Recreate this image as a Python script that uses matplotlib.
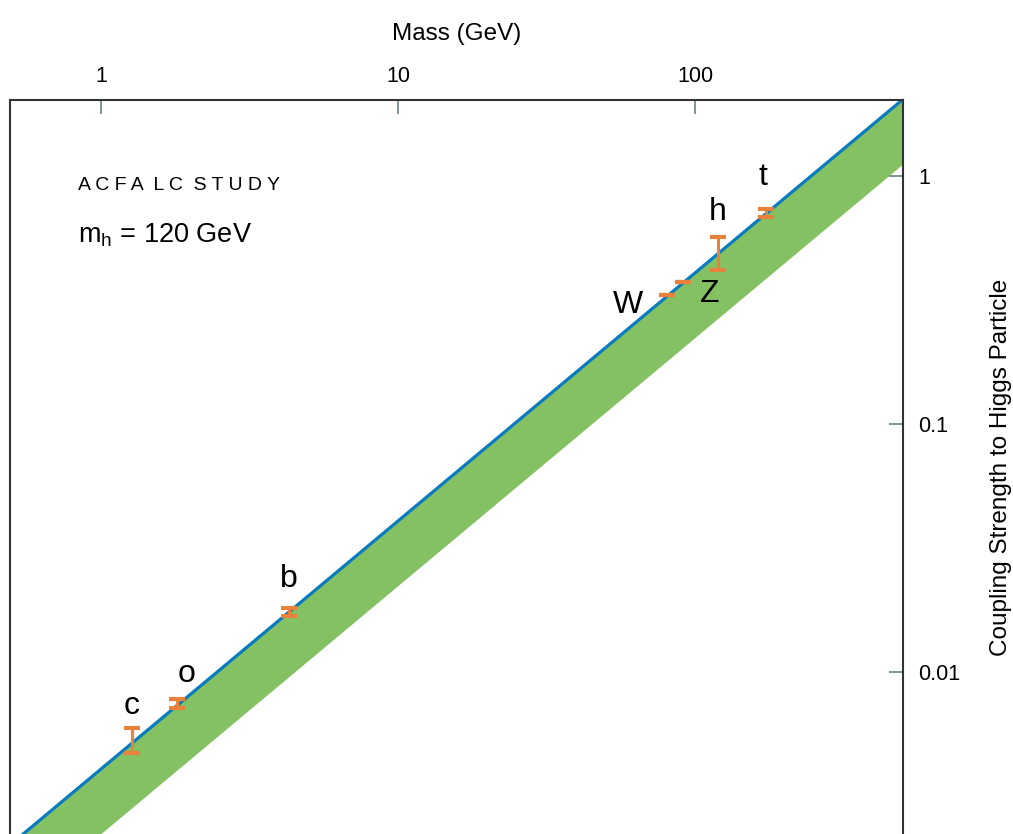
import numpy as np
import matplotlib
matplotlib.use('Agg')
import matplotlib.pyplot as plt

plt.rc('font', family=['Liberation Sans', 'DejaVu Sans'])

# particle masses (GeV) and measured couplings with error ranges
names = ['c', 'o', 'b', 'W', 'Z', 'h', 't']
mass = [1.27, 1.80, 4.3, 80.5, 91.2, 119.5, 173.4]
coup_lo = [0.00471, 0.00716, 0.01682, 0.331, 0.374, 0.418, 0.684]
coup_hi = [0.00594, 0.00778, 0.0181, 0.331, 0.374, 0.568, 0.736]
label_off = [(0, 16), (7, 18), (0, 21), (-28, -7), (19, -9), (0, 18), (-2, 23)]

vev = 246.0
band_factor = 0.545

green = '#84c163'
blue = '#0a7bbf'
orange = '#e8823a'
tickc = '#6a8484'

fig = plt.figure(figsize=(10.13, 8.34), dpi=100)
ax = fig.add_axes([0.0099, 0.0, 0.8815, 0.8801])
ax.set_xscale('log')
ax.set_yscale('log')

m = np.logspace(-0.5, 3, 200)
ax.fill_between(m, m / vev * band_factor, m / vev, color=green, lw=0, zorder=1)
ax.plot(m, m / vev, color=blue, lw=2.3, zorder=2)

mass_a = np.array(mass)
lo = np.array(coup_lo)
hi = np.array(coup_hi)
mid = (lo + hi) / 2
ax.errorbar(mass_a, mid, yerr=[mid - lo, hi - mid], fmt='none', ecolor=orange,
            elinewidth=2.2, capsize=6, capthick=3, zorder=3)

for n, x, y, off in zip(names, mass_a, hi, label_off):
    ax.annotate(n, (x, y), xytext=off, textcoords='offset points',
                ha='center', va='center', fontsize=23)

ax.set_xlim(10**-0.3064, 10**2.7003)
ax.set_ylim(10**-2.653, 10**0.3065)

ax.xaxis.set_ticks_position('top')
ax.xaxis.set_label_position('top')
ax.yaxis.set_ticks_position('right')
ax.yaxis.set_label_position('right')
ax.set_xticks([1, 10, 100])
ax.set_xticklabels(['1', '10', '100'])
ax.set_yticks([0.01, 0.1, 1])
ax.set_yticklabels(['0.01', '0.1', '1'])
ax.minorticks_off()
ax.tick_params(axis='x', direction='in', length=10, width=1.2, color=tickc,
               labelsize=15.5, pad=9)
ax.tick_params(axis='y', direction='in', length=10, width=1.2, color=tickc,
               labelsize=15.5, pad=11)
ax.set_xlabel('Mass (GeV)', fontsize=17.5, labelpad=19)
ax.set_ylabel('Coupling Strength to Higgs Particle', fontsize=17.5, labelpad=21)

ax.spines['bottom'].set_visible(False)
for s in ['left', 'top', 'right']:
    ax.spines[s].set_linewidth(1.5)
    ax.spines[s].set_color('#333333')

ax.text(0.076, 0.883, 'A C F A  L C  S T U D Y',
        transform=ax.transAxes, fontsize=14, va='center')
ax.text(0.076, 0.816, r'm$_\mathregular{h}$ = 120 GeV', transform=ax.transAxes,
        fontsize=19.5, va='center')

fig.savefig('out.png', dpi=100)
